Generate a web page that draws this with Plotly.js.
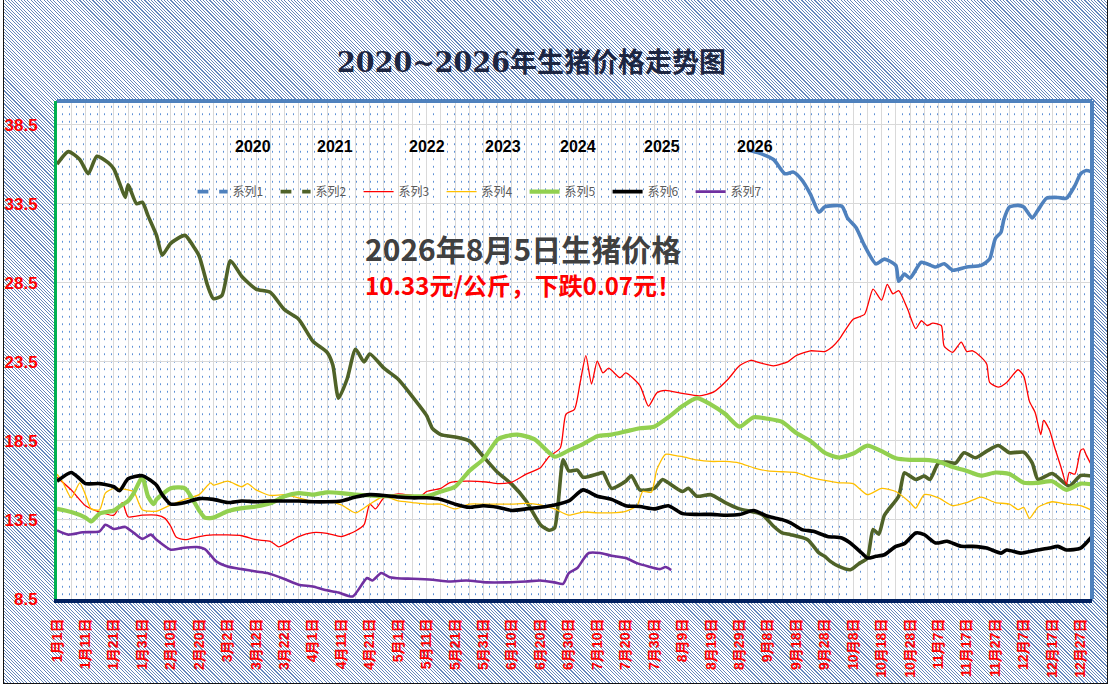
<!DOCTYPE html>
<html>
<head>
<meta charset="utf-8">
<script src="https://cdn.plot.ly/plotly-3.0.1.min.js"></script>
<style>
  html, body { margin: 0; padding: 0; background: #ffffff; }
  #wrap { position: relative; width: 1112px; height: 691px; overflow: hidden; background: #ffffff; }
  #frame {
    position: absolute; left: 3px; top: 0px; width: 1103px; height: 683px;
    border-left: 1.5px solid #111; border-right: 1.5px solid #111; border-bottom: 1.5px solid #111;
    background-color: #ffffff;
    background-image: repeating-linear-gradient(45deg, #6587bd 0px, #6587bd 0.8px, #ffffff 0.8px, #ffffff 2.3px);
  }
  #plotbg {
    position: absolute; left: 57px; top: 101px; width: 1035px; height: 498px;
    background-color: #ffffff;
    background-image: radial-gradient(circle, #5b8fd6 0.6px, rgba(255,255,255,0) 1.0px);
    background-size: 7px 7.5px;
    background-position: 2px 2px;
  }
  #chart { position: absolute; left: 0; top: 0; width: 1112px; height: 691px; }
</style>
</head>
<body>
<div id="wrap">
  <div id="frame"></div>
  <div id="plotbg"></div>
  <div id="chart"></div>
</div>
<script>
// ---- data (day index in year, 0 = 1月1日) ----
const seriesNames = ['系列1','系列2','系列3','系列4','系列5','系列6','系列7'];
const yearLabels = ['2020','2021','2022','2023','2024','2025','2026'];

const tickLabels = ['1月1日','1月11日','1月21日','1月31日','2月10日','2月20日','3月2日','3月12日','3月22日','4月1日',
  '4月11日','4月21日','5月1日','5月11日','5月21日','5月31日','6月10日','6月20日','6月30日','7月10日',
  '7月20日','7月30日','8月9日','8月19日','8月29日','9月8日','9月18日','9月28日','10月8日','10月18日',
  '10月28日','11月7日','11月17日','11月27日','12月7日','12月17日','12月27日'];

// 系列1 (2020)
const days1 = [243,247,252,256,259,262,265,268,270,276,278,281,284,288,291,295,296,298,300,304,309,312,315,320,325,328,330,332,333,335,338,340,343,345,348,352,355,358,360,362,364];
const price1 = [36.9,36.7,36.3,35.4,35.5,35.0,34.1,32.96,33.3,33.35,32.6,32.0,30.85,29.7,30.0,29.6,28.6,29.05,28.8,29.8,29.5,29.7,29.3,29.5,29.6,30.0,31.3,31.7,32.5,33.3,33.4,33.3,32.6,33.1,33.85,33.9,33.85,34.65,35.4,35.6,35.5];

// 系列2 (2021)
const days2 = [0,4,8,11,14,18,20,22,24,25,28,30,32,35,37,40,45,48,50,53,55,58,61,65,70,75,80,85,90,95,97,99,102,105,108,110,115,120,125,130,132,135,140,145,150,155,160,165,170,173,175,178,180,183,185,190,192,195,200,202,205,210,213,215,220,222,225,230,235,240,248,252,255,258,264,268,270,272,275,279,282,285,287,289,291,296,298,300,302,305,307,310,313,316,319,323,327,331,335,340,343,345,350,356,360,364];
const price2 = [36.0,36.8,36.3,35.4,36.5,36.1,35.7,34.8,33.9,34.7,33.5,33.6,32.75,31.5,30.25,31.0,31.5,30.8,30.2,28.3,27.5,27.7,29.9,28.9,28.1,27.9,26.8,26.2,24.8,24.1,23.3,21.2,22.4,24.3,23.5,24.0,23.1,22.4,21.3,20.1,19.3,18.9,18.75,18.5,17.5,16.5,15.75,14.7,13.2,12.85,13.0,17.3,16.6,16.65,16.2,16.4,16.5,15.5,15.95,16.3,15.4,15.5,16.06,15.85,15.3,15.5,15.0,15.1,14.6,14.2,13.84,13.1,12.68,12.57,12.25,11.41,11.2,10.88,10.56,10.35,10.73,11.1,12.9,12.6,13.8,15.0,16.48,16.27,16.06,16.27,16.06,17.1,17.16,17.1,17.75,17.43,17.85,18.21,17.75,17.79,17.1,16.06,16.44,15.64,16.31,16.27];

// 系列3 (2022)
const days3 = [0,5,10,15,20,23,25,30,35,38,40,42,45,50,55,60,65,70,75,78,80,85,90,95,100,105,108,110,112,115,120,125,128,130,135,138,144,151,155,160,165,170,173,177,179,182,184,186,188,190,192,194,198,200,205,208,211,214,220,226,231,236,240,244,247,252,257,260,265,270,273,275,280,284,287,290,292,294,296,299,302,304,306,308,311,312,315,318,320,322,325,327,328,331,334,338,340,342,344,346,347,349,351,353,355,356,358,360,361,362,364];
const price3 = [16.2,15.4,14.4,14.0,13.8,14.6,13.7,13.8,13.8,13.6,13.1,12.4,12.25,12.45,12.55,12.55,12.5,12.25,12.15,11.8,11.95,12.45,12.7,12.65,12.45,12.8,13.2,14.5,14.2,14.9,15.15,15.05,15.0,15.3,15.5,15.85,15.95,15.9,15.8,15.9,16.4,16.8,17.5,18.05,20.2,20.5,22.2,23.9,22.1,23.55,22.8,23.1,22.5,22.8,22.0,20.7,21.55,21.7,21.5,21.35,21.6,22.4,23.25,23.6,23.45,23.25,23.5,23.9,24.2,24.15,24.5,24.9,26.2,26.5,28.1,27.4,28.4,27.8,28.0,26.9,25.6,26.1,25.8,25.95,25.8,24.5,24.1,24.75,24.15,24.2,23.8,23.35,22.2,21.9,22.2,23.0,22.6,21.0,20.3,18.9,19.8,19.2,18.0,16.9,15.75,16.5,16.4,17.9,18.0,17.6,16.9];

// 系列4 (2023)
const days4 = [0,2,5,8,10,12,15,17,20,25,27,30,35,40,45,50,54,55,60,65,67,70,75,80,85,90,95,100,105,110,115,120,125,130,135,140,145,150,155,160,165,170,175,180,185,190,195,200,204,206,209,211,214,218,220,225,230,235,240,245,250,255,260,265,270,275,280,285,290,295,300,302,305,310,315,320,325,330,335,338,340,342,345,350,355,360,364];
const price4 = [16.4,15.9,14.9,15.85,15.1,14.2,14.15,15.2,15.5,15.4,15.3,14.15,14.05,14.45,14.8,15.1,15.85,15.7,15.95,15.6,15.8,15.4,15.05,15.1,14.9,14.65,14.7,14.45,13.95,14.5,15.0,14.7,14.6,14.5,14.5,14.2,14.5,14.5,14.5,14.5,14.55,14.45,14.2,13.8,14.0,13.95,13.95,14.05,14.4,15.3,15.25,16.7,17.65,17.55,17.5,17.3,17.2,17.2,17.1,16.8,16.6,16.55,16.5,16.2,16.0,15.85,15.8,15.1,15.5,15.3,14.6,14.25,15.1,14.9,14.4,14.6,14.95,14.6,14.5,14.15,14.3,13.6,14.3,14.65,14.5,14.4,14.1];

// 系列5 (2024)
const days5 = [0,5,10,12,15,20,22,25,27,30,32,34,35,40,45,50,52,55,60,65,70,75,80,85,90,95,100,105,110,115,120,125,130,135,140,145,150,155,158,162,168,175,180,185,190,195,200,205,210,215,220,225,230,235,240,245,250,255,260,265,270,275,280,285,290,295,300,305,310,315,320,325,330,335,340,345,350,355,360,364];
const price5 = [14.2,14.0,13.65,13.4,13.9,14.1,14.35,14.7,15.2,16.2,15.0,14.5,14.8,15.5,15.5,14.1,13.65,13.65,14.05,14.25,14.35,14.55,15.0,15.2,15.1,15.25,15.2,15.1,15.05,15.0,15.0,15.0,15.0,15.3,15.6,16.6,17.35,18.6,18.8,18.9,18.6,17.5,17.9,18.3,18.8,18.9,19.1,19.3,19.4,20.0,20.7,21.2,20.8,20.2,19.4,20.0,19.9,19.7,19.0,18.5,17.75,17.45,17.7,18.2,17.85,17.4,17.3,17.3,17.2,16.85,16.6,16.3,16.5,16.4,15.85,15.85,15.95,15.4,15.8,15.75];

// 系列6 (2025)
const days6 = [0,5,8,10,15,20,22,25,30,35,37,40,45,50,55,60,65,70,75,80,85,90,95,100,105,110,115,120,125,130,135,140,145,150,155,160,165,170,175,180,185,190,195,200,205,210,215,220,225,230,235,240,245,250,255,258,262,266,271,276,279,283,285,288,291,295,298,302,305,309,313,318,322,327,332,334,339,344,349,352,355,360,363,364];
const price6 = [15.95,16.5,16.1,15.8,15.8,15.6,15.35,16.1,16.3,15.7,15.1,14.5,14.6,14.85,14.8,14.6,14.7,14.65,14.7,14.7,14.7,14.65,14.65,14.7,14.95,15.1,15.05,14.95,14.9,14.9,14.8,14.5,14.3,14.4,14.3,14.1,14.2,14.3,14.45,14.7,15.4,15.0,14.8,14.4,14.35,14.2,14.4,13.9,13.85,13.85,13.8,13.84,14.1,13.73,13.52,13.31,12.89,12.78,12.46,12.36,12.04,11.41,11.09,11.2,11.3,11.83,12.0,12.68,12.57,12.04,12.15,11.83,11.83,11.72,11.4,11.6,11.4,11.57,11.72,11.83,11.6,11.72,12.25,12.46];

// 系列7 (2026)
const days7 = [0,4,9,15,17,20,24,27,30,33,35,40,44,49,52,56,60,65,70,74,80,85,90,94,99,104,109,111,114,117,121,125,132,138,144,151,158,165,170,175,178,180,183,185,187,191,195,200,204,208,212,214,216];
const price7 = [12.84,12.57,12.72,12.78,13.2,12.93,13.06,12.68,12.3,12.57,12.25,11.62,11.72,11.79,11.66,10.88,10.56,10.39,10.24,10.14,9.76,9.4,9.29,9.08,8.91,8.66,9.82,9.67,10.14,9.88,9.8,9.78,9.72,9.61,9.67,9.55,9.55,9.61,9.67,9.55,9.46,10.14,10.46,10.98,11.41,11.41,11.24,11.09,10.77,10.56,10.39,10.52,10.33];

const titleText = '2020~2026年生猪价格走势图';
const noteLine1 = '2026年8月5日生猪价格';
const noteLine2 = '10.33元/公斤，下跌0.07元！';

// ---- styles ----
const allDays = [days1, days2, days3, days4, days5, days6, days7];
const allPrices = [price1, price2, price3, price4, price5, price6, price7];
const styles = [
  {color: '#4f81bd', width: 3.6, dash: 'dash'},
  {color: '#4f6228', width: 3.6, dash: 'dash'},
  {color: '#ff0000', width: 1.3, dash: 'solid'},
  {color: '#ffc000', width: 1.3, dash: 'solid'},
  {color: '#92d050', width: 4.2, dash: 'solid'},
  {color: '#000000', width: 3.6, dash: 'solid'},
  {color: '#7030a0', width: 2.6, dash: 'solid'}
];

const traces = [];
// legend entries
seriesNames.forEach((nm, i) => {
  traces.push({
    type: 'scatter', mode: 'lines', name: nm, x: [null], y: [null],
    legendgroup: 'g' + i, showlegend: true, hoverinfo: 'skip',
    line: {color: styles[i].color, width: styles[i].width, dash: styles[i].dash}
  });
});
// data lines
seriesNames.forEach((nm, i) => {
  traces.push({
    type: 'scatter', mode: 'lines', name: nm, x: allDays[i], y: allPrices[i],
    legendgroup: 'g' + i, showlegend: false,
    line: {color: styles[i].color, width: styles[i].width, shape: 'spline', smoothing: 0.6}
  });
});

const tickDays = tickLabels.map((_, i) => i * 10);

const yearX = [0.1894, 0.2686, 0.3575, 0.4309, 0.5034, 0.5845, 0.6744];
const annotations = yearLabels.map((t, i) => ({
  xref: 'paper', yref: 'paper', x: yearX[i], y: 0.9085, xanchor: 'center', yanchor: 'middle',
  text: '<b>' + t + '</b>', showarrow: false,
  font: {family: 'Liberation Sans, Arial, sans-serif', size: 16, color: '#000000'}
}));
annotations.push({
  xref: 'paper', yref: 'paper', x: 0.450, y: 0.705, xanchor: 'center', yanchor: 'middle',
  text: '<b>' + noteLine1 + '</b>', showarrow: false,
  font: {family: 'Noto Sans CJK SC, sans-serif', size: 30, color: '#404040'}
});
annotations.push({
  xref: 'paper', yref: 'paper', x: 0.450, y: 0.631, xanchor: 'center', yanchor: 'middle',
  text: '<b>' + noteLine2 + '</b>', showarrow: false,
  font: {family: 'Noto Sans CJK SC, sans-serif', size: 24, color: '#ff0000'}
});

const layout = {
  width: 1112, height: 691,
  margin: {l: 57, r: 20, t: 101, b: 92, pad: 0},
  paper_bgcolor: 'rgba(0,0,0,0)',
  plot_bgcolor: 'rgba(0,0,0,0)',
  title: {
    text: '<b>' + titleText + '</b>',
    x: 0.478, xanchor: 'center', y: 0.91, yanchor: 'middle',
    font: {family: 'DejaVu Serif, Noto Sans CJK SC, serif', size: 27, color: '#1c2541'}
  },
  showlegend: true,
  legend: {
    orientation: 'h', x: 0.131, xanchor: 'left', y: 0.818, yanchor: 'middle',
    bgcolor: 'rgba(0,0,0,0)', borderwidth: 0,
    entrywidth: 38, entrywidthmode: 'pixels',
    font: {family: 'Noto Sans CJK SC, sans-serif', size: 12, color: '#595959'}
  },
  xaxis: {
    range: [0, 364], tickmode: 'array', tickvals: tickDays, ticktext: tickLabels,
    tickangle: -90, ticks: '', ticklabelstandoff: 10,
    tickfont: {family: 'Liberation Sans, Noto Sans CJK SC, sans-serif', size: 14, color: '#ff0000', weight: 'bold'},
    showgrid: true, gridcolor: '#d9d9d9', gridwidth: 1,
    minor: {tick0: 0, dtick: 5, showgrid: true, gridcolor: '#d9d9d9', gridwidth: 1},
    showline: true, linecolor: '#002060', linewidth: 4,
    zeroline: false, fixedrange: true
  },
  yaxis: {
    range: [8.5, 40], tickmode: 'linear', tick0: 8.5, dtick: 5, tickformat: '.1f',
    ticks: '', ticklabelstandoff: 13,
    tickfont: {family: 'Liberation Sans, Arial, sans-serif', size: 17, color: '#ff0000', weight: 'bold'},
    showgrid: true, gridcolor: '#d9d9d9', gridwidth: 1,
    showline: true, linecolor: '#00b050', linewidth: 3,
    zeroline: false, fixedrange: true
  },
  shapes: [
    {type: 'line', xref: 'paper', yref: 'paper', x0: 0, x1: 1, y0: 1, y1: 1, layer: 'above',
     line: {color: '#4f81bd', width: 4}},
    {type: 'line', xref: 'paper', yref: 'paper', x0: 1, x1: 1, y0: 0, y1: 1, layer: 'above',
     line: {color: '#4f81bd', width: 4}}
  ],
  annotations: annotations
};

Plotly.newPlot('chart', traces, layout, {displayModeBar: false, staticPlot: true});
</script>
</body>
</html>
